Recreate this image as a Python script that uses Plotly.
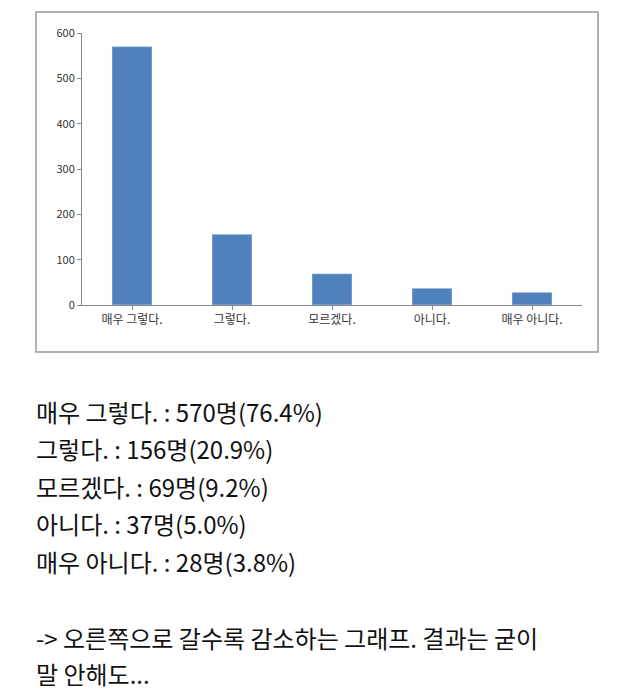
import plotly.graph_objects as go

categories = ["매우 그렇다.", "그렇다.", "모르겠다.", "아니다.", "매우 아니다."]
values = [570, 156, 69, 37, 28]
percents = ["76.4%", "20.9%", "9.2%", "5.0%", "3.8%"]

W, H = 640, 700
O = 8
L, R, T, B = 82 - O, 582 - O, 33 - O, 305 - O

def px(x): return (x - O - L) / (R - L)
def py(y): return (B - (y - O)) / (B - T)

fig = go.Figure(go.Bar(x=categories, y=values, marker_color="#4F81BD", width=0.4))
font = "Noto Sans CJK KR"
fig.update_layout(
    width=W, height=H, margin=dict(l=L, r=W - R, t=T, b=H - B),
    paper_bgcolor="white", plot_bgcolor="white", showlegend=False,
    font=dict(family=font, color="#222"),
)
fig.update_yaxes(range=[0, 600], dtick=100, showgrid=False, showline=True, linecolor="#888",
                 ticks="outside", ticklen=4, tickcolor="#888", tickfont=dict(size=11, color="#333"), zeroline=False)
fig.update_xaxes(showline=True, linecolor="#888", ticks="outside", ticklen=4, tickcolor="#888",
                 tickfont=dict(size=12, color="#333"))
fig.add_shape(type="rect", xref="paper", yref="paper", x0=px(36), x1=px(598), y0=py(352), y1=py(12),
              line=dict(color="#999", width=1.5))

lines = [f"{c} : {v}명({p})" for c, v, p in zip(categories, values, percents)]
ys = [411, 448, 486, 523, 561]
for t, y in zip(lines, ys):
    fig.add_annotation(text=t, xref="paper", yref="paper", x=px(34), y=py(y), xanchor="left",
                       yanchor="middle", showarrow=False, font=dict(size=24, color="#111", family=font))
for t, y in [("-> 오른쪽으로 갈수록 감소하는 그래프. 결과는 굳이", 637), ("말 안해도...", 673)]:
    fig.add_annotation(text=t, xref="paper", yref="paper", x=px(34), y=py(y), xanchor="left",
                       yanchor="middle", showarrow=False, font=dict(size=24, color="#111", family=font))
fig.write_html("out.html")
